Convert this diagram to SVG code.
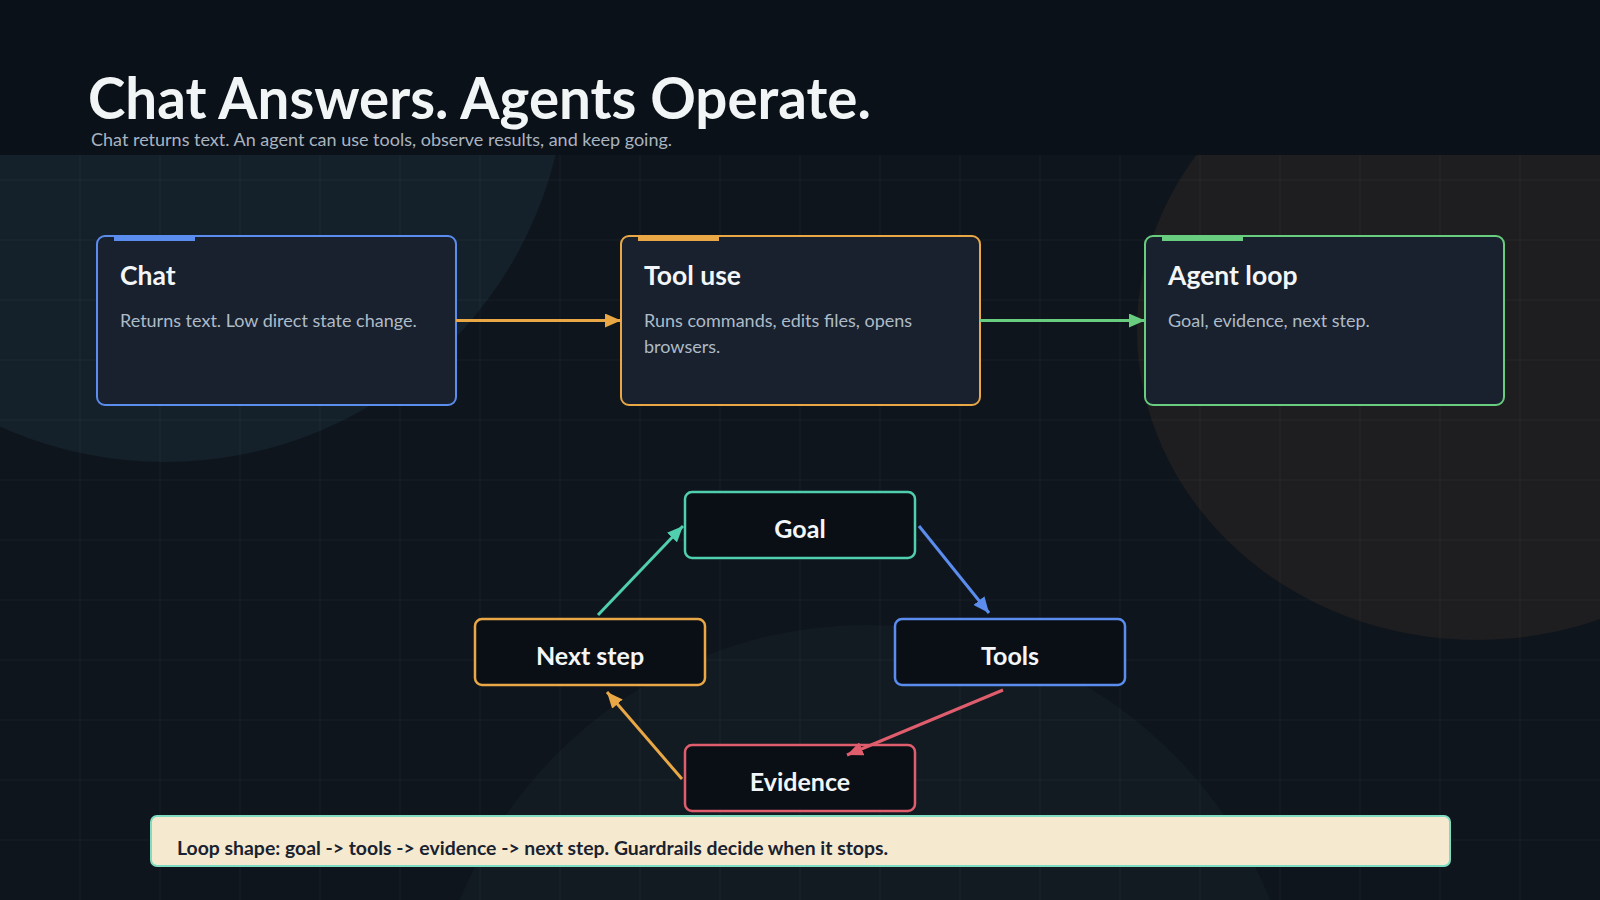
<svg xmlns="http://www.w3.org/2000/svg" width="1600" height="900" viewBox="0 0 1600 900">
<defs>
<style>
.t{font-family:Lato,"Noto Sans",sans-serif}
.grid line{stroke:#ffffff;stroke-opacity:0.045;stroke-width:1}
.card{fill:#18212d;stroke-width:2}
.ctitle{font-family:Lato,"Noto Sans",sans-serif;font-weight:700;font-size:26.5px;fill:#f3f6f8}
.cdesc{font-family:Lato,"Noto Sans",sans-serif;font-size:18px;fill:#aebbc8}
.node{fill:#0a0f16;stroke-width:2.5}
.nlabel{font-family:Lato,"Noto Sans",sans-serif;font-weight:700;font-size:25px;fill:#f3f6f8;text-anchor:middle}
.conn{fill:none;stroke-width:3}
</style>
<marker id="mOrange" viewBox="0 0 16 14" refX="16" refY="7" markerWidth="16" markerHeight="14" markerUnits="userSpaceOnUse" orient="auto"><path d="M0,0 L16,7 L0,14 z" fill="#e9a845"/></marker>
<marker id="mGreen" viewBox="0 0 16 14" refX="16" refY="7" markerWidth="16" markerHeight="14" markerUnits="userSpaceOnUse" orient="auto"><path d="M0,0 L16,7 L0,14 z" fill="#68cd7e"/></marker>
<marker id="mTeal" viewBox="0 0 16 14" refX="16" refY="7" markerWidth="16" markerHeight="14" markerUnits="userSpaceOnUse" orient="auto"><path d="M0,0 L16,7 L0,14 z" fill="#4fcfae"/></marker>
<marker id="mBlue" viewBox="0 0 16 14" refX="16" refY="7" markerWidth="16" markerHeight="14" markerUnits="userSpaceOnUse" orient="auto"><path d="M0,0 L16,7 L0,14 z" fill="#5b8def"/></marker>
<marker id="mRed" viewBox="0 0 16 14" refX="16" refY="7" markerWidth="16" markerHeight="14" markerUnits="userSpaceOnUse" orient="auto"><path d="M0,0 L16,7 L0,14 z" fill="#e05d6d"/></marker>
</defs>

<!-- background -->
<rect x="0" y="0" width="1600" height="900" fill="#0f151c"/>
<circle cx="165" cy="60" r="402" fill="#14202a"/>
<ellipse cx="1477" cy="330" rx="340" ry="310" fill="#1e1e20"/>
<ellipse cx="865" cy="1075" rx="440" ry="450" fill="#121b21"/>
<g class="grid">
<line x1="80" y1="0" x2="80" y2="900"/><line x1="160" y1="0" x2="160" y2="900"/><line x1="240" y1="0" x2="240" y2="900"/><line x1="320" y1="0" x2="320" y2="900"/><line x1="400" y1="0" x2="400" y2="900"/><line x1="480" y1="0" x2="480" y2="900"/><line x1="560" y1="0" x2="560" y2="900"/><line x1="640" y1="0" x2="640" y2="900"/><line x1="720" y1="0" x2="720" y2="900"/><line x1="800" y1="0" x2="800" y2="900"/><line x1="880" y1="0" x2="880" y2="900"/><line x1="960" y1="0" x2="960" y2="900"/><line x1="1040" y1="0" x2="1040" y2="900"/><line x1="1120" y1="0" x2="1120" y2="900"/><line x1="1200" y1="0" x2="1200" y2="900"/><line x1="1280" y1="0" x2="1280" y2="900"/><line x1="1360" y1="0" x2="1360" y2="900"/><line x1="1440" y1="0" x2="1440" y2="900"/><line x1="1520" y1="0" x2="1520" y2="900"/>
<line x1="0" y1="180" x2="1600" y2="180"/><line x1="0" y1="240" x2="1600" y2="240"/><line x1="0" y1="300" x2="1600" y2="300"/><line x1="0" y1="360" x2="1600" y2="360"/><line x1="0" y1="420" x2="1600" y2="420"/><line x1="0" y1="480" x2="1600" y2="480"/><line x1="0" y1="540" x2="1600" y2="540"/><line x1="0" y1="600" x2="1600" y2="600"/><line x1="0" y1="660" x2="1600" y2="660"/><line x1="0" y1="720" x2="1600" y2="720"/><line x1="0" y1="780" x2="1600" y2="780"/><line x1="0" y1="840" x2="1600" y2="840"/>
</g>

<!-- header -->
<rect x="0" y="0" width="1600" height="155" fill="#0b1119"/>
<text class="t" x="88" y="118.5" font-size="56.5" font-weight="700" fill="#f2f5f5">Chat Answers. Agents Operate.</text>
<text class="t" x="91" y="146" font-size="18" fill="#a9b4c0">Chat returns text. An agent can use tools, observe results, and keep going.</text>

<!-- cards -->
<g id="card-chat">
<rect class="card" x="97" y="236" width="359" height="169" rx="8" stroke="#5b8def"/>
<rect x="114" y="236" width="81" height="5" fill="#5b8def"/>
<text class="ctitle" x="120" y="284.5">Chat</text>
<text class="cdesc" x="120" y="327">Returns text. Low direct state change.</text>
</g>
<g id="card-tool-use">
<rect class="card" x="621" y="236" width="359" height="169" rx="8" stroke="#e9a845"/>
<rect x="638" y="236" width="81" height="5" fill="#e9a845"/>
<text class="ctitle" x="644" y="284.5">Tool use</text>
<text class="cdesc" x="644" y="327">Runs commands, edits files, opens</text>
<text class="cdesc" x="644" y="353">browsers.</text>
</g>
<g id="card-agent-loop">
<rect class="card" x="1145" y="236" width="359" height="169" rx="8" stroke="#68cd7e"/>
<rect x="1162" y="236" width="81" height="5" fill="#68cd7e"/>
<text class="ctitle" x="1168" y="284.5">Agent loop</text>
<text class="cdesc" x="1168" y="327">Goal, evidence, next step.</text>
</g>

<!-- loop nodes -->
<g id="node-goal">
<rect class="node" x="685" y="492" width="230" height="66" rx="7" stroke="#4fcfae"/>
<text class="nlabel" x="800" y="537.5">Goal</text>
</g>
<g id="node-tools">
<rect class="node" x="895" y="619" width="230" height="66" rx="7" stroke="#5b8def"/>
<text class="nlabel" x="1010" y="664.5">Tools</text>
</g>
<g id="node-next-step">
<rect class="node" x="475" y="619" width="230" height="66" rx="7" stroke="#e9a845"/>
<text class="nlabel" x="590" y="664.5">Next step</text>
</g>
<g id="node-evidence">
<rect class="node" x="685" y="745" width="230" height="66" rx="7" stroke="#e05d6d"/>
<text class="nlabel" x="800" y="790.5">Evidence</text>
</g>

<!-- connectors -->
<g id="connectors">
<line class="conn" x1="456" y1="320.5" x2="621" y2="320.5" stroke="#e9a845" marker-end="url(#mOrange)"/>
<line class="conn" x1="980" y1="320.5" x2="1145" y2="320.5" stroke="#68cd7e" marker-end="url(#mGreen)"/>
<line class="conn" x1="598" y1="615" x2="683" y2="526" stroke="#4fcfae" marker-end="url(#mTeal)"/>
<line class="conn" x1="919" y1="526" x2="989" y2="613" stroke="#5b8def" marker-end="url(#mBlue)"/>
<line class="conn" x1="1003" y1="690" x2="847" y2="755" stroke="#e05d6d" marker-end="url(#mRed)"/>
<line class="conn" x1="682" y1="779" x2="607" y2="692" stroke="#e9a845" marker-end="url(#mOrange)"/>
</g>

<!-- note -->
<g id="note">
<rect x="151" y="816" width="1299" height="50" rx="6" fill="#f5ead0" stroke="#7fdcc0" stroke-width="2"/>
<text class="t" x="177" y="854.5" font-size="19.4" font-weight="700" fill="#1a2230">Loop shape: goal -&gt; tools -&gt; evidence -&gt; next step. Guardrails decide when it stops.</text>
</g>
</svg>
